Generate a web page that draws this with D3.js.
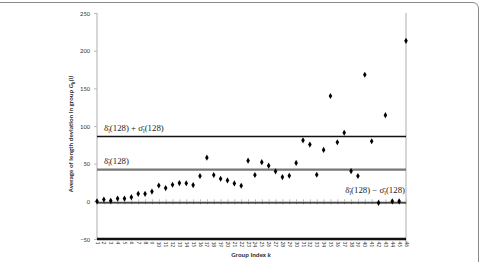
<!DOCTYPE html>
<html>
<head>
<meta charset="utf-8">
<script src="https://cdn.jsdelivr.net/npm/d3@7"></script>
<style>
  body { margin: 0; background: #fff; }
  svg { display: block; }
</style>
</head>
<body>
<svg id="chart" width="481" height="262"></svg>
<script>
// DATA
const groups = [1, 2, 3, 4, 5, 6, 7, 8, 9, 10, 11, 12, 13, 14, 15, 16, 17, 18, 19, 20, 21, 22, 23,
  24, 25, 26, 27, 28, 29, 30, 31, 32, 33, 34, 35, 36, 37, 38, 39, 40, 41, 42, 43, 44, 45, 46];
const avgDeviation = [0, 2.4, 0.7, 3.7, 3.7, 5.5, 10, 10, 13, 21, 17.6, 22, 24.2, 24, 21.6, 33.6,
  58, 35, 30, 27.8, 23.8, 20.7, 54, 35, 52, 47.3, 39.8, 32.2, 34, 51, 81, 75.3, 35.3, 68.2, 139.8,
  78.4, 91, 40.2, 33.6, 168, 79.8, -2, 114.4, 0, 0, 213];
const yTicks = [-50, 0, 50, 100, 150, 200, 250];
const meanDev = 42;   // δ̄_l(128)
const stdDev = 44;    // σ̄_l(128)

// CANVAS SETUP
const svg = d3.select("#chart");
const margin = { top: 13, left: 97, right: 75, bottom: 23 };
const width = 481 - margin.left - margin.right,
  height = 262 - margin.top - margin.bottom;

// frame
svg.append("path")
  .attr("d", "M0,2.5 H472 Q478.5,2.5 478.5,9 V262")
  .attr("fill", "none")
  .attr("stroke", "#8a8a8a")
  .attr("stroke-width", 1);

const x = d3.scalePoint().domain(groups).range([margin.left, margin.left + width]);
const y = d3.scaleLinear().domain([-50, 250]).range([margin.top + height, margin.top]);

const x0 = margin.left, x1 = margin.left + width;

// plot borders
svg.append("line")
  .attr("x1", x0).attr("x2", x0)
  .attr("y1", y(250)).attr("y2", y(-50))
  .attr("stroke", "#c8c8c8").attr("stroke-width", 1.5);
svg.append("line")
  .attr("x1", x1).attr("x2", x1)
  .attr("y1", y(250)).attr("y2", y(-50) + 4)
  .attr("stroke", "#c8c8c8").attr("stroke-width", 1.5);

// y axis
const gy = svg.append("g").attr("transform", `translate(${x0},0)`)
  .call(d3.axisLeft(y).tickValues(yTicks).tickSize(3).tickPadding(4));
gy.select(".domain").remove();
gy.selectAll(".tick line").attr("stroke", "#bbb");
gy.selectAll(".tick text")
  .attr("font-family", "Calibri, 'Liberation Sans', Arial, sans-serif")
  .attr("font-size", 6.5).attr("fill", "#333");

// x axis at zero with tick marks
const gx0 = svg.append("g").attr("transform", `translate(0,${y(0)})`)
  .call(d3.axisBottom(x).tickSize(3).tickFormat(""));
gx0.select(".domain").attr("stroke", "#bbb");
gx0.selectAll(".tick line").attr("stroke", "#bbb").attr("y1", -2);

// tick labels at the bottom
const gxl = svg.append("g").attr("transform", `translate(0,${y(-50)})`)
  .call(d3.axisBottom(x).tickSize(0).tickPadding(2));
gxl.select(".domain").remove();
gxl.selectAll(".tick text")
  .attr("font-family", "Calibri, 'Liberation Sans', Arial, sans-serif")
  .attr("font-size", 5.5).attr("fill", "#333")
  .attr("transform", "rotate(90)")
  .attr("text-anchor", "start")
  .attr("dy", "0.35em")
  .attr("x", 2.5)
  .attr("y", 0);

// reference lines
const refLines = [
  { v: meanDev + stdDev, stroke: "#111", w: 1.4 },
  { v: meanDev, stroke: "#777", w: 2.2 },
  { v: meanDev - stdDev, stroke: "#111", w: 1.4 },
  { v: -50, stroke: "#111", w: 2.4 },
];
svg.selectAll(".refline").data(refLines).join("line")
  .attr("class", "refline")
  .attr("x1", x0).attr("x2", x1)
  .attr("y1", (d) => y(d.v)).attr("y2", (d) => y(d.v))
  .attr("stroke", (d) => d.stroke)
  .attr("stroke-width", (d) => d.w);

// reference labels
const serif = "'Liberation Serif', 'DejaVu Serif', serif";
function refLabel(xp, yp, anchor, parts) {
  const t = svg.append("text")
    .attr("x", xp).attr("y", yp)
    .attr("text-anchor", anchor)
    .attr("font-family", serif)
    .attr("font-size", 8.8)
    .attr("fill", "#222");
  parts.forEach((p) => {
    const s = t.append("tspan").text(p.t);
    if (p.sub) s.attr("font-size", 6).attr("dy", 2);
    if (p.up) s.attr("dy", -2);
  });
}
const dl = [{ t: "δ̄" }, { t: "l", sub: true }, { t: "(128)", up: true }];
const sl = [{ t: "σ̄" }, { t: "l", sub: true }, { t: "(128)", up: true }];
refLabel(x0 + 7, y(meanDev + stdDev) - 6, "start", [...dl, { t: " + " }, ...sl]);
refLabel(x0 + 7, y(meanDev) - 6, "start", dl);
refLabel(x1 - 1, y(meanDev - stdDev) - 10, "end", [...dl, { t: "  − " }, ...sl]);

// points
const diamond = d3.symbol().type(d3.symbolDiamond).size(11);
svg.selectAll(".pt").data(groups).join("path")
  .attr("class", "pt")
  .attr("d", diamond)
  .attr("transform", (d, i) => `translate(${x(d)},${y(avgDeviation[i])})`)
  .attr("fill", "#000");

// axis titles
const sans = "Calibri, 'Liberation Sans', Arial, sans-serif";
const yt = svg.append("text")
  .attr("transform", "translate(73,134) rotate(-90)")
  .attr("text-anchor", "middle")
  .attr("font-family", sans)
  .attr("font-size", 6.8)
  .attr("font-weight", "bold")
  .attr("fill", "#333");
yt.append("tspan").text("Average of length deviation in group ");
yt.append("tspan").attr("font-style", "italic").text("G");
yt.append("tspan").attr("font-style", "italic").attr("font-size", 5).attr("dy", 1.5).text("k");
yt.append("tspan").attr("font-style", "italic").attr("dy", -1.5).text("(l)");

const xt = svg.append("text")
  .attr("x", 251).attr("y", 257)
  .attr("text-anchor", "middle")
  .attr("font-family", sans)
  .attr("font-size", 6.8)
  .attr("font-weight", "bold")
  .attr("fill", "#333");
xt.append("tspan").text("Group Index ");
xt.append("tspan").attr("font-style", "italic").text("k");
</script>
</body>
</html>
